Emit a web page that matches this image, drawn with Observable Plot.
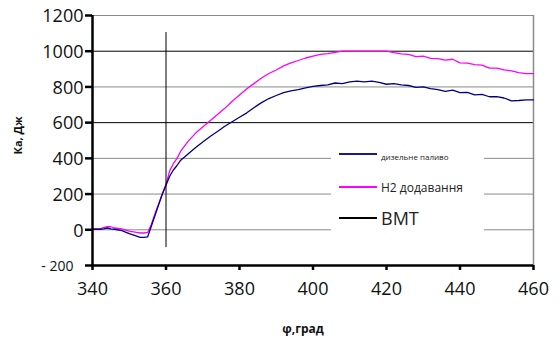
<!DOCTYPE html>
<html>
<head>
<meta charset="utf-8">
<script src="https://cdn.jsdelivr.net/npm/d3@7"></script>
<script src="https://cdn.jsdelivr.net/npm/@observablehq/plot@0.6"></script>
<style>
  body { margin: 0; background: #fff; font-family: "Open Sans", sans-serif; }
  #wrap { position: relative; width: 560px; height: 347px; }
  #legend { position: absolute; left: 331px; top: 141px; width: 153px; height: 104px; background: #fff; }
  .lg { position: absolute; left: 8px; display: flex; align-items: center; color: #222; white-space: nowrap; }
  .lg span.sw { display: inline-block; width: 38px; margin-right: 4px; }
</style>
</head>
<body>
<div id="wrap">
  <div id="chart"></div>
  <div id="legend">
    <div class="lg" style="top:6px;height:14px;font-size:8px;"><span class="sw" style="height:2px;background:#1a1a8c;"></span><span style="margin-top:4px">дизельне паливо</span></div>
    <div class="lg" style="top:37px;height:18px;font-size:12px;"><span class="sw" style="height:1.5px;background:#ff00ff;"></span><span>H2 додавання</span></div>
    <div class="lg" style="top:64px;height:26px;font-size:18px;"><span class="sw" style="height:1.2px;background:#000;"></span><span>BMT</span></div>
  </div>
</div>
<script>
// angle, degrees
const phi = [340,342,343,344,345,346,348,350,352,353,354,355,356,357,358,359,360,361,362,363,364,366,368,370,372,374,376,378,380,382,384,386,388,390,392,394,396,398,400,402,404,406,408,410,412,414,416,418,420,422,424,426,428,430,432,434,436,438,440,442,444,446,448,450,452,454,456,458,460];
// дизельне паливо
const diesel = [3,3,5,10,5,3,-5,-22,-35,-42,-43,-40,20,80,140,200,250,300,335,360,390,425,460,492,522,550,580,605,630,655,685,712,735,752,768,778,785,795,803,808,812,822,818,828,832,828,832,825,815,818,812,808,798,800,790,785,775,782,768,770,755,758,745,746,738,722,724,728,727];
// H2 додавання
const h2 = [5,5,12,18,17,10,5,-8,-15,-18,-18,-15,30,90,145,200,255,330,370,400,440,495,540,575,610,645,680,720,755,790,820,850,875,895,918,935,948,962,972,982,986,994,1000,1000,1000,1000,1000,1000,1000,992,985,982,970,972,960,958,950,955,935,933,925,922,905,905,895,890,880,875,875];
// BMT marker
const bmtX = [360, 360];
const bmtY = [-95, 1105];

const xTicks = [340,360,380,400,420,440,460];
const yTicks = [0,200,400,600,800,1000,1200];
const yNeg = [-200];
const gridDark = [1000, 600];
const gridLight = [1200, 800, 400, 200, 0];

const dieselData = phi.map((p,i) => ({phi:p, k:diesel[i]}));
const h2Data = phi.map((p,i) => ({phi:p, k:h2[i]}));
const bmtData = bmtX.map((p,i) => ({phi:p, k:bmtY[i]}));

const chart = Plot.plot({
  width: 560, height: 347,
  marginLeft: 92, marginRight: 27, marginTop: 15, marginBottom: 82,
  style: {fontFamily: '"Open Sans", sans-serif', background: "#fff", color: "#111"},
  x: {domain: [340, 460], axis: null, label: null},
  y: {domain: [-200, 1200], axis: null, label: null},
  marks: [
    Plot.ruleY(gridLight, {y: d => d, stroke: "#8a8a8a", strokeWidth: 1}),
    Plot.ruleY(gridDark, {y: d => d, stroke: "#000", strokeWidth: 1}),
    Plot.ruleX([460], {x: d => d, stroke: "#8a8a8a", strokeWidth: 1.5}),
    Plot.line(h2Data, {x: "phi", y: "k", stroke: "#ff00ff", strokeWidth: 1.3}),
    Plot.line(dieselData, {x: "phi", y: "k", stroke: "#000080", strokeWidth: 1.3}),
    Plot.line(bmtData, {x: "phi", y: "k", stroke: "#000", strokeWidth: 1}),
    Plot.ruleX([340], {x: d => d, stroke: "#000", strokeWidth: 2.5}),
    Plot.ruleY([-200], {y: d => d, stroke: "#000", strokeWidth: 2.5}),
    Plot.axisY({ticks: [...yNeg, ...yTicks], label: null, tickSize: 7, tickFormat: () => "", stroke: "#000", strokeWidth: 2.5}),
    Plot.axisX({ticks: xTicks, label: null, tickSize: 5, tickFormat: () => "", stroke: "#000", strokeWidth: 2.5}),
    Plot.text(yTicks, {y: d => d, text: d => String(d), frameAnchor: "left", textAnchor: "end", dx: -9, dy: 1, fontSize: 18, fill: "#111"}),
    Plot.text(yNeg, {y: d => d, text: d => "- " + Math.abs(d), frameAnchor: "left", textAnchor: "end", dx: -19, dy: 1, fontSize: 14, fill: "#111"}),
    Plot.text(xTicks, {x: d => d, text: d => String(d), frameAnchor: "bottom", dy: 29, fontSize: 18, fill: "#111"}),
    Plot.text(["φ,град"], {text: d => d, frameAnchor: "bottom", dx: -10, dy: 67, fontSize: 12, fontWeight: "bold", fill: "#111"}),
    Plot.text(["Ка, Дж"], {text: d => d, frameAnchor: "left", rotate: -90, dx: -74, dy: 14, fontSize: 11, fontWeight: "bold", fill: "#111"})
  ]
});
document.getElementById("chart").appendChild(chart);
</script>
</body>
</html>
